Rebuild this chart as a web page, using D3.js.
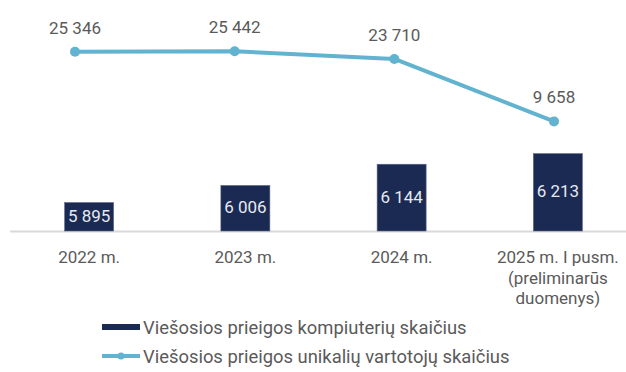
<!DOCTYPE html>
<html lang="lt">
<head>
<meta charset="utf-8">
<script src="https://cdn.jsdelivr.net/npm/d3@7/dist/d3.min.js"></script>
<style>
  html, body { margin: 0; padding: 0; background: #ffffff; }
  svg { display: block; }
  text { font-family: Roboto, "Noto Sans", sans-serif; }
</style>
</head>
<body>
<svg id="chart" width="626" height="372"></svg>
<script>
// Period labels (multi-line labels split on "\n")
const categories = ["2022 m.", "2023 m.", "2024 m.", "2025 m. I pusm.\n(preliminarūs\nduomenys)"];
// Public access computers (bars)
const computers = [5895, 6006, 6144, 6213];
// Unique public access users (line)
const users = [25346, 25442, 23710, 9658];
// Legend entries
const seriesNames = [
  "Viešosios prieigos kompiuterių skaičius",
  "Viešosios prieigos unikalių vartotojų skaičius"
];

const W = 626, H = 372;
const barColor = "#1b2a52";
const lineColor = "#62b3cf";
const textColor = "#5a5a5a";
const fontSize = 17;
const legendFontSize = 18.4;

const svg = d3.select("#chart");
const fmt = v => d3.format(",")(v).replace(/,/g, " ");

const plotTop = 31, plotBottom = 231;

// Bars: band scale across the plot, secondary value axis
const xBar = d3.scaleBand().domain(categories).range([11, 636]).padding(0);
const barW = 49;
const yBar = d3.scaleLinear().domain([5710, 7010]).range([plotBottom, plotTop]);

// Line: its own point scale and value axis
const xLine = d3.scalePoint().domain(categories).range([75, 554]);
const yLine = d3.scaleLinear().domain([-15000, 30000]).range([plotBottom, plotTop]);

// Category axis line
svg.append("line")
  .attr("x1", 10).attr("x2", W)
  .attr("y1", plotBottom + 0.5).attr("y2", plotBottom + 0.5)
  .attr("stroke", "#d9d9d9").attr("stroke-width", 2);

// Bars
const barCx = c => xBar(c) + xBar.bandwidth() / 2;
svg.append("g").selectAll("rect")
  .data(categories)
  .join("rect")
  .attr("x", c => barCx(c) - barW / 2)
  .attr("width", barW)
  .attr("y", (c, i) => yBar(computers[i]))
  .attr("height", (c, i) => plotBottom - yBar(computers[i]))
  .attr("fill", barColor)
  .attr("stroke", "#5a6788")
  .attr("stroke-width", 0.6);

// Bar value labels
svg.append("g").selectAll("text")
  .data(categories)
  .join("text")
  .attr("x", c => barCx(c))
  .attr("y", (c, i) => {
    const top = yBar(computers[i]);
    return (top + plotBottom) / 2 + 5;
  })
  .attr("text-anchor", "middle")
  .attr("font-size", fontSize)
  .attr("fill", "#e6e9f0")
  .text((c, i) => fmt(computers[i]));

// Category labels
const catG = svg.append("g");
categories.forEach(c => {
  const t = catG.append("text")
    .attr("x", barCx(c))
    .attr("y", 263)
    .attr("text-anchor", "middle")
    .attr("font-size", fontSize)
    .attr("fill", textColor);
  c.split("\n").forEach((ln, k) => {
    t.append("tspan").attr("x", barCx(c)).attr("dy", k === 0 ? 0 : 20.5).text(ln);
  });
});

// Users line
const line = d3.line()
  .x((d, i) => xLine(categories[i]))
  .y(d => yLine(d));
svg.append("path")
  .datum(users)
  .attr("d", line)
  .attr("fill", "none")
  .attr("stroke", lineColor)
  .attr("stroke-width", 4)
  .attr("stroke-linejoin", "round");

svg.append("g").selectAll("circle")
  .data(users)
  .join("circle")
  .attr("cx", (d, i) => xLine(categories[i]))
  .attr("cy", d => yLine(d))
  .attr("r", 5)
  .attr("fill", lineColor);

// Line value labels
svg.append("g").selectAll("text")
  .data(users)
  .join("text")
  .attr("x", (d, i) => xLine(categories[i]))
  .attr("y", d => yLine(d) - 18)
  .attr("text-anchor", "middle")
  .attr("font-size", fontSize)
  .attr("fill", textColor)
  .text(d => fmt(d));

// Legend
const lg = svg.append("g");
const lgX = 102, lgW = 38, textX = 143;
const row1 = 327, row2 = 356;
lg.append("rect")
  .attr("x", lgX).attr("y", row1 - 3).attr("width", lgW).attr("height", 6)
  .attr("fill", barColor);
lg.append("text")
  .attr("x", textX).attr("y", row1 + 6.5)
  .attr("font-size", legendFontSize).attr("fill", textColor)
  .text(seriesNames[0]);
lg.append("line")
  .attr("x1", lgX).attr("x2", lgX + lgW)
  .attr("y1", row2).attr("y2", row2)
  .attr("stroke", lineColor).attr("stroke-width", 4);
lg.append("circle")
  .attr("cx", lgX + lgW / 2).attr("cy", row2).attr("r", 3.5)
  .attr("fill", lineColor);
lg.append("text")
  .attr("x", textX).attr("y", row2 + 6.5)
  .attr("font-size", legendFontSize).attr("fill", textColor)
  .text(seriesNames[1]);
</script>
</body>
</html>
